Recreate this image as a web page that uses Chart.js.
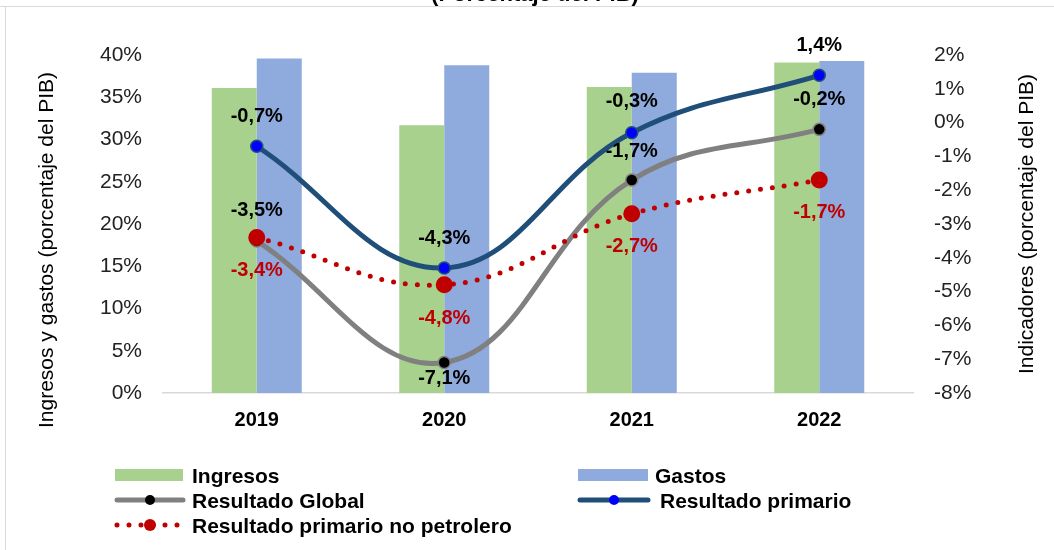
<!DOCTYPE html>
<html>
<head>
<meta charset="utf-8">
<script src="https://cdn.jsdelivr.net/npm/chart.js@4"></script>
<style>
  body { margin: 0; background: #fff; }
  #wrap { width: 1054px; height: 550px; }
</style>
</head>
<body>
<div id="wrap"><canvas id="fiscalChart" width="1054" height="550"></canvas></div>
<script>
var years = ['2019', '2020', '2021', '2022'];
var ingresos = [36.1, 31.7, 36.2, 39.1];
var gastos = [39.6, 38.8, 37.9, 39.3];
var resultadoGlobal = [-3.5, -7.1, -1.7, -0.2];
var resultadoPrimario = [-0.7, -4.3, -0.3, 1.4];
var primarioNoPetrolero = [-3.4, -4.8, -2.7, -1.7];

var FONT = "'Liberation Sans', Arial, sans-serif";

function pct(v) {
    return v.toFixed(1).replace('.', ',') + '%';
}

// value labels next to the line points
var labelPlugin = {
    id: 'pointLabels',
    afterDatasetsDraw: function(chart) {
        var ctx = chart.ctx;
        ctx.save();
        ctx.font = 'bold 20px ' + FONT;
        ctx.textAlign = 'center';
        ctx.textBaseline = 'middle';
        chart.data.datasets.forEach(function(ds, i) {
            if (!ds.labelOffsets) return;
            var meta = chart.getDatasetMeta(i);
            meta.data.forEach(function(pt, j) {
                ctx.fillStyle = ds.labelColor;
                ctx.fillText(pct(ds.data[j]), pt.x, pt.y + ds.labelOffsets[j]);
            });
        });
        ctx.restore();
    }
};

// frame, cut title, axis titles and the two-column legend
var decoPlugin = {
    id: 'deco',
    afterDraw: function(chart) {
        var ctx = chart.ctx;
        ctx.save();
        ctx.strokeStyle = '#d9d9d9';
        ctx.lineWidth = 1;
        ctx.beginPath();
        ctx.moveTo(0, 6.5); ctx.lineTo(1054, 6.5);
        ctx.moveTo(5.5, 6); ctx.lineTo(5.5, 550);
        ctx.stroke();

        ctx.fillStyle = '#000';
        ctx.font = 'bold 22px ' + FONT;
        ctx.textAlign = 'center';
        ctx.textBaseline = 'alphabetic';
        ctx.fillText('(Porcentaje del PIB)', 535, 1);

        // axis titles, both reading bottom to top
        ctx.font = '21px ' + FONT;
        ctx.textBaseline = 'middle';
        ctx.save();
        ctx.translate(47, 250);
        ctx.rotate(-Math.PI / 2);
        ctx.fillText('Ingresos y gastos (porcentaje del PIB)', 0, 0);
        ctx.restore();
        ctx.save();
        ctx.translate(1027, 224);
        ctx.rotate(-Math.PI / 2);
        ctx.fillText('Indicadores (porcentaje del PIB)', 0, 0);
        ctx.restore();

        // legend
        ctx.font = 'bold 21px ' + FONT;
        ctx.textAlign = 'left';
        ctx.textBaseline = 'alphabetic';

        ctx.fillStyle = '#A9D18E';
        ctx.fillRect(115, 469, 68, 12);
        ctx.fillStyle = '#8FAADC';
        ctx.fillRect(578, 469, 70, 12);
        ctx.fillStyle = '#000';
        ctx.fillText('Ingresos', 192, 483);
        ctx.fillText('Gastos', 655, 483);

        ctx.lineCap = 'round';
        ctx.lineWidth = 5;
        ctx.strokeStyle = '#808080';
        ctx.beginPath(); ctx.moveTo(117, 500); ctx.lineTo(183, 500); ctx.stroke();
        ctx.fillStyle = '#000';
        ctx.beginPath(); ctx.arc(150, 500, 5, 0, Math.PI * 2); ctx.fill();
        ctx.fillText('Resultado Global', 192, 508);

        ctx.strokeStyle = '#1F4E79';
        ctx.beginPath(); ctx.moveTo(580, 500); ctx.lineTo(648, 500); ctx.stroke();
        ctx.fillStyle = '#0000FF';
        ctx.beginPath(); ctx.arc(614, 500, 5, 0, Math.PI * 2); ctx.fill();
        ctx.fillStyle = '#000';
        ctx.fillText('Resultado primario', 660, 508);

        ctx.strokeStyle = '#C00000';
        ctx.setLineDash([0, 12]);
        ctx.beginPath(); ctx.moveTo(117, 525); ctx.lineTo(183, 525); ctx.stroke();
        ctx.setLineDash([]);
        ctx.fillStyle = '#C00000';
        ctx.beginPath(); ctx.arc(150, 525, 6, 0, Math.PI * 2); ctx.fill();
        ctx.fillStyle = '#000';
        ctx.fillText('Resultado primario no petrolero', 192, 533);
        ctx.restore();
    }
};

var ctx = document.getElementById('fiscalChart').getContext('2d');
var myChart = new Chart(ctx, {
    type: 'bar',
    data: {
        labels: years,
        datasets: [
            {
                label: 'Ingresos',
                data: ingresos,
                backgroundColor: '#A9D18E',
                yAxisID: 'y',
                order: 10,
                categoryPercentage: 0.48,
                barPercentage: 1
            },
            {
                label: 'Gastos',
                data: gastos,
                backgroundColor: '#8FAADC',
                yAxisID: 'y',
                order: 10,
                categoryPercentage: 0.48,
                barPercentage: 1
            },
            {
                type: 'line',
                label: 'Resultado Global',
                data: resultadoGlobal,
                yAxisID: 'y1',
                borderColor: '#808080',
                borderWidth: 5,
                tension: 0.4,
                pointRadius: 6,
                pointBackgroundColor: '#000',
                pointBorderColor: '#808080',
                pointBorderWidth: 1.5,
                order: 2,
                labelColor: '#000',
                labelOffsets: [-30, 16, -29, -30]
            },
            {
                type: 'line',
                label: 'Resultado primario',
                data: resultadoPrimario,
                yAxisID: 'y1',
                borderColor: '#1F4E79',
                borderWidth: 5,
                tension: 0.4,
                pointRadius: 6,
                pointBackgroundColor: '#0000FF',
                pointBorderColor: '#1F4E79',
                pointBorderWidth: 1.5,
                order: 3,
                labelColor: '#000',
                labelOffsets: [-30, -29, -31, -30]
            },
            {
                type: 'line',
                label: 'Resultado primario no petrolero',
                data: primarioNoPetrolero,
                yAxisID: 'y1',
                borderColor: '#C00000',
                borderWidth: 5,
                borderDash: [0, 12],
                borderCapStyle: 'round',
                tension: 0.4,
                pointRadius: 6,
                pointBackgroundColor: '#C00000',
                pointBorderColor: '#C00000',
                order: 1,
                labelColor: '#C00000',
                labelOffsets: [33, 34, 33, 32]
            }
        ]
    },
    options: {
        responsive: false,
        animation: false,
        layout: { padding: { top: 55, left: 0, right: 0, bottom: 0 } },
        plugins: {
            legend: { display: false },
            tooltip: { enabled: false }
        },
        scales: {
            x: {
                grid: { display: false, drawTicks: false },
                border: { display: true, color: '#d9d9d9', width: 1.5 },
                ticks: {
                    color: '#000',
                    padding: 15,
                    font: { family: FONT, size: 20, weight: 'bold' }
                },
                afterFit: function(scale) { scale.height = 157; }
            },
            y: {
                position: 'left',
                min: 0,
                max: 40,
                grid: { display: false, drawTicks: false },
                border: { display: false },
                ticks: {
                    stepSize: 5,
                    padding: 21,
                    color: '#222',
                    font: { family: FONT, size: 21 },
                    callback: function(v) { return v + '%'; }
                },
                afterFit: function(scale) { scale.width = 163; }
            },
            y1: {
                position: 'right',
                min: -8,
                max: 2,
                grid: { display: false, drawTicks: false },
                border: { display: false },
                ticks: {
                    stepSize: 1,
                    padding: 21,
                    color: '#222',
                    font: { family: FONT, size: 21 },
                    callback: function(v) { return v + '%'; }
                },
                afterFit: function(scale) { scale.width = 141; }
            }
        }
    },
    plugins: [labelPlugin, decoPlugin]
});
</script>
</body>
</html>
